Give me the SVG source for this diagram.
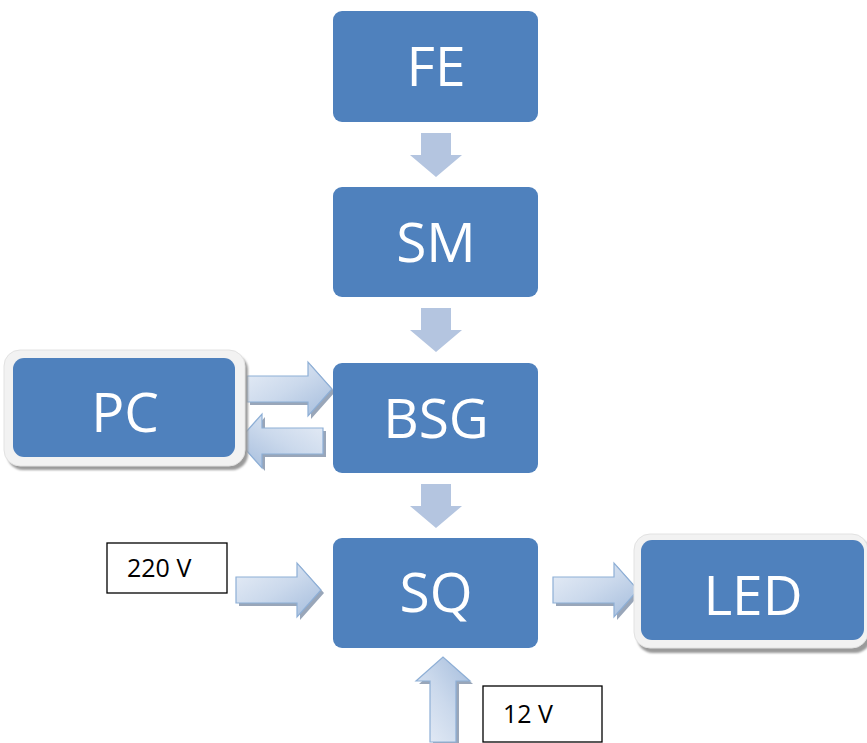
<svg xmlns="http://www.w3.org/2000/svg" width="867" height="743" viewBox="0 0 867 743">
  <style>
    .box { fill: #4f81bd; }
    .frame { fill: #f2f2f2; stroke: #e2e2e2; stroke-width: 1; }
    .frame-shadow { fill: #9a9a9a; filter: url(#soft); }
    .label { font-family: "Open Sans", "Noto Sans", "Liberation Sans", sans-serif; font-size: 55px; fill: #ffffff; text-anchor: middle; }
    .note { fill: #ffffff; stroke: #000000; stroke-width: 1.3; }
    .note-text { font-family: "Open Sans", "Noto Sans", "Liberation Sans", sans-serif; font-size: 25px; fill: #000000; }
    .flow { fill: #b4c5e0; }
    .block-arrow { fill: url(#arrowFill); stroke: #8eafd6; stroke-width: 1.2; }
    .block-shadow { fill: #8796ad; opacity: 0.85; }
  </style>
  <defs>
    <filter id="soft" x="-10%" y="-10%" width="120%" height="120%">
      <feGaussianBlur stdDeviation="1.2"/>
    </filter>
    <linearGradient id="arrowFill" x1="0" y1="0" x2="1" y2="1">
      <stop offset="0" stop-color="#e8eef7"/>
      <stop offset="0.5" stop-color="#cbd9ec"/>
      <stop offset="1" stop-color="#a4bcdc"/>
    </linearGradient>
    <!-- block arrow pointing right, tip at the origin -->
    <path id="blockRight" d="M-85,-13 H-24 V-27 L0,0 L-24,27 V13 H-85 Z"/>
  </defs>

  <rect width="867" height="743" fill="#ffffff"/>

  <!-- connectors -->
  <g id="connectors">
    <!-- plain down arrows between stacked blocks -->
    <path class="flow" d="M421,133 H451 V155 H462 L436,177 L410,155 H421 Z"/>
    <path class="flow" d="M421,308 H451 V330 H462 L436,352 L410,330 H421 Z"/>
    <path class="flow" d="M421,484 H451 V506 H462 L436,528 L410,506 H421 Z"/>

    <!-- PC -> BSG -->
    <g transform="translate(332,389)">
      <use href="#blockRight" class="block-shadow" transform="translate(3,3)"/>
      <use href="#blockRight" class="block-arrow"/>
    </g>
    <!-- BSG -> PC -->
    <g transform="translate(238,441) scale(-1,1)">
      <use href="#blockRight" class="block-shadow" transform="translate(-3,3)"/>
      <use href="#blockRight" class="block-arrow"/>
    </g>
    <!-- 220 V -> SQ -->
    <g transform="translate(321,590)">
      <use href="#blockRight" class="block-shadow" transform="translate(3,3)"/>
      <use href="#blockRight" class="block-arrow"/>
    </g>
    <!-- SQ -> LED -->
    <g transform="translate(638,590)">
      <use href="#blockRight" class="block-shadow" transform="translate(3,3)"/>
      <use href="#blockRight" class="block-arrow"/>
    </g>
    <!-- 12 V -> SQ (pointing up) -->
    <g transform="translate(443,657) rotate(-90)">
      <use href="#blockRight" class="block-shadow" transform="translate(-3,3)"/>
      <use href="#blockRight" class="block-arrow"/>
    </g>
  </g>

  <!-- nodes -->
  <g id="node-fe">
    <rect class="box" x="333" y="11" width="205" height="111" rx="9"/>
    <text class="label" x="436" y="86">FE</text>
  </g>
  <g id="node-sm">
    <rect class="box" x="333" y="187" width="205" height="110" rx="9"/>
    <text class="label" x="436" y="262">SM</text>
  </g>
  <g id="node-bsg">
    <rect class="box" x="333" y="363" width="205" height="110" rx="9"/>
    <text class="label" x="436" y="438">BSG</text>
  </g>
  <g id="node-sq">
    <rect class="box" x="333" y="538" width="205" height="110" rx="9"/>
    <text class="label" x="436" y="612">SQ</text>
  </g>
  <g id="node-pc">
    <rect class="frame-shadow" x="7" y="354" width="241" height="116" rx="16"/>
    <rect class="frame" x="4" y="350" width="241" height="116" rx="16"/>
    <rect class="box" x="13" y="358" width="222" height="99" rx="11"/>
    <text class="label" x="125" y="432">PC</text>
  </g>
  <g id="node-led">
    <rect class="frame-shadow" x="637" y="538" width="234" height="115" rx="16"/>
    <rect class="frame" x="634" y="534" width="234" height="114" rx="16"/>
    <rect class="box" x="641" y="540" width="223" height="100" rx="11"/>
    <text class="label" x="753" y="615">LED</text>
  </g>
  <g id="node-220v">
    <rect class="note" x="107" y="543" width="120" height="50"/>
    <text class="note-text" x="127" y="577">220 V</text>
  </g>
  <g id="node-12v">
    <rect class="note" x="483" y="686" width="119" height="56"/>
    <text class="note-text" x="503" y="723">12 V</text>
  </g>
</svg>
